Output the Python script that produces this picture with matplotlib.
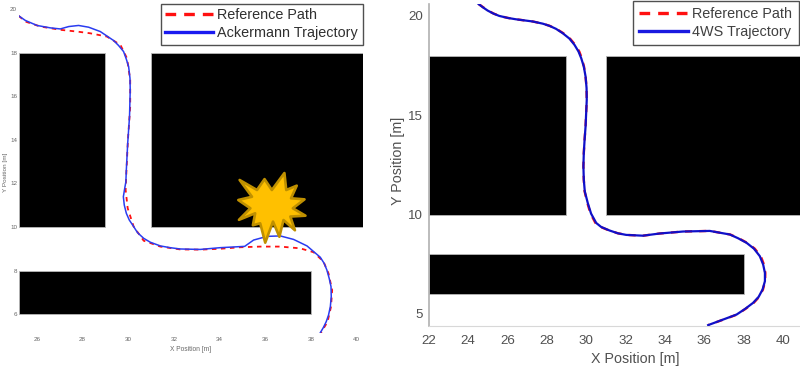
import matplotlib
matplotlib.use("Agg")
import matplotlib.pyplot as plt
from matplotlib.lines import Line2D
from matplotlib.patches import Polygon, Rectangle

plt.rcParams['font.family'] = ['Liberation Sans', 'DejaVu Sans']

W, H = 800, 367

# Left panel: Ackermann
ack_x = [25.21, 25.50, 26.01, 26.59, 27.03, 27.40, 27.83, 28.27, 28.78, 29.36, 29.58, 29.80, 29.92, 30.02,
         30.08, 30.09, 30.06, 29.98, 29.92, 29.90, 29.85, 29.79, 29.83, 29.92, 30.05, 30.24, 30.41, 30.68,
         30.97, 31.41, 31.84, 32.28, 33.16, 34.03, 35.10, 35.49, 36.08, 36.66, 37.24, 37.83, 38.12, 38.41,
         38.58, 38.70, 38.80, 38.88, 38.89, 38.85, 38.77, 38.67, 38.55, 38.41]
ack_y = [19.70, 19.49, 19.26, 19.15, 19.10, 19.21, 19.26, 19.18, 18.98, 18.57, 18.34, 18.06, 17.71, 17.37,
         16.84, 16.30, 15.07, 13.85, 12.62, 12.08, 11.78, 11.39, 11.01, 10.63, 10.32, 10.02, 9.74, 9.48,
         9.30, 9.13, 9.05, 8.99, 8.97, 9.05, 9.11, 9.40, 9.57, 9.59, 9.43, 9.13, 8.87, 8.61,
         8.33, 8.02, 7.64, 7.26, 6.80, 6.34, 5.95, 5.65, 5.39, 5.14]
ref_left_x = [25.21, 25.50, 26.16, 27.03, 27.76, 28.34, 29.07, 29.66, 29.95, 30.09, 30.09, 29.99, 29.92,
              29.89, 29.98, 30.24, 30.68, 31.41, 32.28, 33.16, 34.03, 34.91, 35.78, 36.66, 37.53,
              38.12, 38.55, 38.77, 38.93, 38.88, 38.73, 38.44]
ref_left_y = [19.70, 19.44, 19.21, 19.06, 18.98, 18.90, 18.75, 18.37, 17.75, 16.76, 15.53, 14.00, 12.47,
              11.70, 10.86, 10.02, 9.37, 9.10, 8.97, 8.96, 9.00, 9.07, 9.10, 9.10, 9.02,
              8.84, 8.41, 7.87, 7.10, 6.34, 5.65, 5.14]

# Crash marker outline
star_x = [34.88, 35.64, 35.97, 36.29, 36.84, 36.92, 37.38, 37.13, 37.72, 37.21, 37.76, 37.10,
          37.30, 36.80, 36.62, 36.34, 36.00, 35.78, 35.46, 35.56, 34.85, 35.35, 34.82, 35.42]
star_y = [12.16, 11.70, 12.20, 11.70, 12.48, 11.70, 11.90, 11.32, 11.27, 10.86, 10.52, 10.48,
          9.85, 10.32, 9.55, 10.25, 9.28, 10.17, 10.08, 10.63, 10.33, 10.86, 11.24, 11.39]

# Right panel: 4WS
fws_x = [24.54, 24.75, 25.00, 25.29, 25.59, 26.02, 26.44, 27.29, 27.80, 28.14, 28.47, 28.81, 29.15, 29.41,
         29.61, 29.75, 29.88, 29.97, 30.02, 30.03, 30.00, 29.97, 29.92, 29.88, 29.86, 29.88, 29.93, 30.08,
         30.25, 30.51, 30.76, 31.19, 31.61, 32.03, 32.88, 33.73, 34.92, 36.27, 37.29, 37.71, 38.14, 38.51,
         38.81, 38.98, 39.07, 39.07, 38.95, 38.75, 38.47, 38.07, 37.63, 36.95, 36.19]
fws_y = [20.60, 20.44, 20.27, 20.12, 20.00, 19.90, 19.83, 19.72, 19.61, 19.50, 19.35, 19.13, 18.86, 18.54,
         18.21, 17.87, 17.45, 16.95, 16.37, 15.78, 15.11, 14.44, 13.77, 13.10, 12.43, 11.76, 11.17, 10.59,
         10.05, 9.58, 9.38, 9.20, 9.06, 8.98, 8.94, 9.05, 9.15, 9.18, 9.00, 8.81, 8.58, 8.29,
         7.91, 7.49, 7.07, 6.65, 6.23, 5.86, 5.56, 5.26, 4.97, 4.72, 4.44]
ref_right_x = [24.54, 24.77, 25.02, 25.30, 25.60, 26.02, 26.44, 27.29, 27.80, 28.15, 28.49, 28.84, 29.18, 29.45,
               29.65, 29.78, 29.89, 29.97, 30.02, 30.03, 30.00, 29.97, 29.92, 29.88, 29.86, 29.88, 29.92, 30.06,
               30.22, 30.47, 30.73, 31.17, 31.61, 32.03, 32.88, 33.73, 34.92, 36.27, 37.31, 37.74, 38.17, 38.55,
               38.86, 39.02, 39.09, 39.08, 38.97, 38.78, 38.50, 38.09, 37.65, 36.97, 36.19]
ref_right_y = fws_y

# Obstacles: x0, y0, width, height
left_obstacles = [(25.2, 10, 3.8, 8), (31, 10, 9.3, 8), (25.2, 6, 12.8, 2)]
right_obstacles = [(22, 10, 7, 8), (31, 10, 10, 8), (22, 6, 16, 2)]

left_xticks = [26, 28, 30, 32, 34, 36, 38, 40]
left_yticks = [6, 8, 10, 12, 14, 16, 18, 20]
right_xticks = [22, 24, 26, 28, 30, 32, 34, 36, 38, 40]
right_yticks = [5, 10, 15, 20]


def make_axes(fig, left, top, right, bottom):
    return fig.add_axes([left / W, 1 - bottom / H, (right - left) / W, (bottom - top) / H])


fig = plt.figure(figsize=(8, 3.67), dpi=100)

# Left panel
ax1 = make_axes(fig, 18.5, 5, 363, 333)
ax1.set_xlim(25.2, 40.28)
ax1.set_ylim(5.13, 20.2)
for x0, y0, w, h in left_obstacles:
    ax1.add_patch(Rectangle((x0, y0), w, h, fc='black', ec='#b8b8b8', lw=0.6, zorder=1))
ax1.plot(ref_left_x, ref_left_y, color='#ff1010', lw=1.3, dashes=(2.5, 2.5), zorder=2)
ax1.plot(ack_x, ack_y, color='#2a3cf0', lw=1.1, zorder=3)
ax1.add_patch(Polygon(list(zip(star_x, star_y)), closed=True, fc='#FFC000', ec='#BF9000',
                      lw=1.9, joinstyle='round', zorder=4))
for s in ax1.spines.values():
    s.set_visible(False)
ax1.set_xticks(left_xticks)
ax1.set_yticks(left_yticks)
ax1.tick_params(length=0, labelsize=4.5, labelcolor='#666666')
ax1.tick_params(axis='x', pad=3)
ax1.tick_params(axis='y', pad=1)
ax1.set_xlabel('X Position [m]', fontsize=4.8, color='#666666', labelpad=2.5)
ax1.set_ylabel('Y Position [m]', fontsize=4.6, color='#666666')
ax1.yaxis.set_label_coords(-0.03, 0.49)
handles1 = [Line2D([], [], color='#ff1010', lw=2.4, dashes=(3.2, 2.4)),
            Line2D([], [], color='#1a1af0', lw=2.4)]
leg1 = ax1.legend(handles1, ['Reference Path', 'Ackermann Trajectory'], loc='upper right',
                  bbox_to_anchor=(362.5 / W, 1 - 4 / H), bbox_transform=fig.transFigure,
                  fontsize=10.4, fancybox=False, framealpha=1, edgecolor='#505050',
                  labelcolor='#303030', borderpad=0.3, labelspacing=0.28, handlelength=3.3,
                  handletextpad=0.3, borderaxespad=0)
leg1.get_frame().set_linewidth(1.0)
leg1.set_zorder(5)

# Right panel
ax2 = make_axes(fig, 428.5, 4, 800, 325.7)
ax2.set_xlim(22, 40.85)
ax2.set_ylim(4.41, 20.6)
for x0, y0, w, h in right_obstacles:
    ax2.add_patch(Rectangle((x0, y0), w, h, fc='black', ec='#b8b8b8', lw=0.6, zorder=1))
ax2.plot(ref_right_x, ref_right_y, color='#ff1010', lw=1.7, dashes=(3, 3), zorder=2)
ax2.plot(fws_x, fws_y, color='#1010c8', lw=1.6, zorder=3)
ax2.spines['top'].set_visible(False)
ax2.spines['right'].set_visible(False)
ax2.spines['left'].set_color('#b0b0b0')
ax2.spines['bottom'].set_color('#d8d8d8')
ax2.spines['left'].set_linewidth(1.2)
ax2.set_xticks(right_xticks)
ax2.set_yticks(right_yticks)
ax2.tick_params(length=0, labelsize=9.6, labelcolor='#505050', pad=6.5)
ax2.tick_params(axis='y', pad=4)
ax2.set_xlabel('X Position [m]', fontsize=10.3, color='#505050')
ax2.xaxis.set_label_coords(0.556, -0.081)
ax2.set_ylabel('Y Position [m]', fontsize=10.3, color='#505050')
ax2.yaxis.set_label_coords(-0.063, 0.512)
handles2 = [Line2D([], [], color='#ff1010', lw=2.4, dashes=(3.2, 2.4)),
            Line2D([], [], color='#1a1ae0', lw=2.4)]
leg2 = ax2.legend(handles2, ['Reference Path', '4WS Trajectory'], loc='upper right',
                  bbox_to_anchor=(798.5 / W, 1 - 1 / H), bbox_transform=fig.transFigure,
                  fontsize=10.4, fancybox=False, framealpha=1, edgecolor='#505050',
                  labelcolor='#404040', borderpad=0.42, labelspacing=0.28, handlelength=3.4,
                  handletextpad=0.3, borderaxespad=0)
leg2.get_frame().set_linewidth(1.0)
leg2.set_zorder(5)

fig.savefig('out.png', dpi=100)
